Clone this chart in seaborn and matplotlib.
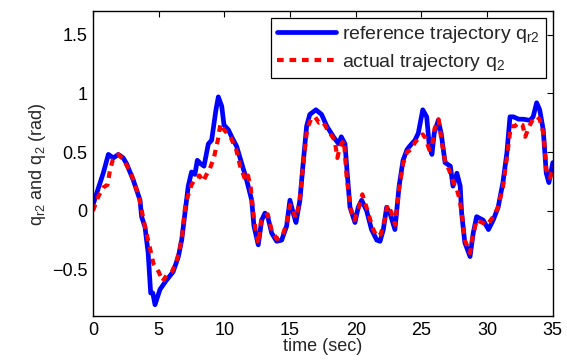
import matplotlib
matplotlib.use("Agg")
import matplotlib.pyplot as plt
import seaborn as sns
import pandas as pd

t_ref = [0, 0.4, 0.78, 1.17, 1.55, 1.93, 2.3, 2.56, 3.07, 3.4, 3.58, 3.7, 3.96, 4.2, 4.39, 4.55, 4.72,
         5.1, 5.6, 6.1, 6.5, 6.75, 7.0, 7.25, 7.5, 7.76, 7.94, 8.2, 8.45, 8.78, 9.03, 9.36, 9.54, 9.8,
         9.97, 10.3, 10.6, 10.93, 11.3, 11.7, 12.08, 12.25, 12.58, 12.84, 13.09, 13.3, 13.6, 13.98,
         14.36, 14.74, 14.99, 15.24, 15.45, 15.75, 16.0, 16.26, 16.5, 16.97, 17.4, 17.8, 18.3, 18.7,
         18.9, 19.18, 19.35, 19.56, 19.94, 20.19, 20.45, 20.83, 21.2, 21.6, 21.85, 22.1, 22.35, 22.6,
         22.98, 23.3, 23.6, 23.9, 24.1, 24.5, 24.76, 25.1, 25.4, 25.6, 25.8, 25.97, 26.28, 26.5, 26.8,
         27.2, 27.4, 27.7, 27.95, 28.06, 28.3, 28.7, 28.94, 29.2, 29.7, 30.1, 30.46, 30.84, 31.2, 31.5,
         31.74, 32.0, 32.4, 32.75, 33.26, 33.5, 33.77, 34.0, 34.27, 34.5, 34.7, 35.0]
q_ref = [0.05, 0.19, 0.32, 0.48, 0.45, 0.48, 0.45, 0.40, 0.26, 0.15, 0.09, -0.05, -0.14, -0.36, -0.70,
         -0.70, -0.80, -0.67, -0.59, -0.52, -0.39, -0.25, -0.02, 0.21, 0.33, 0.31, 0.43, 0.40, 0.38,
         0.57, 0.60, 0.86, 0.97, 0.89, 0.73, 0.69, 0.62, 0.55, 0.41, 0.26, 0.09, -0.13, -0.29, -0.08,
         -0.02, -0.05, -0.19, -0.26, -0.25, -0.13, 0.09, -0.02, -0.10, 0.09, 0.41, 0.72, 0.82, 0.86,
         0.82, 0.72, 0.63, 0.57, 0.63, 0.57, 0.32, 0.03, -0.10, 0.03, 0.09, 0.00, -0.16, -0.25, -0.26,
         -0.16, 0.03, -0.02, -0.16, 0.21, 0.43, 0.52, 0.55, 0.60, 0.66, 0.86, 0.80, 0.55, 0.48, 0.66,
         0.77, 0.66, 0.41, 0.38, 0.21, 0.32, 0.21, -0.02, -0.27, -0.39, -0.19, -0.05, -0.08, -0.16,
         -0.08, 0.03, 0.24, 0.49, 0.80, 0.80, 0.78, 0.78, 0.77, 0.80, 0.92, 0.86, 0.69, 0.32, 0.24, 0.41]

t_act = [0, 0.4, 0.8, 1.1, 1.3, 1.5, 1.9, 2.3, 2.6, 2.9, 3.2, 3.5, 3.8, 4.0, 4.3, 4.6, 5.0, 5.3, 5.6,
         6.0, 6.3, 6.6, 6.8, 7.0, 7.2, 7.5, 7.8, 8.1, 8.4, 8.6, 8.9, 9.2, 9.5, 9.7, 9.9, 10.2, 10.5,
         10.9, 11.2, 11.4, 11.6, 11.8, 12.0, 12.2, 12.4, 12.6, 12.8, 13.0, 13.3, 13.6, 14.0, 14.4,
         14.7, 15.0, 15.2, 15.4, 15.7, 16.0, 16.3, 16.6, 16.9, 17.2, 17.5, 17.8, 18.1, 18.4, 18.6,
         18.8, 19.1, 19.3, 19.6, 19.9, 20.3, 20.5, 20.9, 21.3, 21.6, 21.9, 22.2, 22.4, 22.7, 23.0,
         23.3, 23.6, 23.9, 24.2, 24.5, 24.8, 25.1, 25.3, 25.6, 25.8, 26.0, 26.3, 26.5, 26.8, 27.1,
         27.4, 27.7, 27.9, 28.1, 28.3, 28.7, 28.9, 29.2, 29.6, 30.0, 30.4, 30.8, 31.2, 31.5, 31.8,
         32.1, 32.4, 32.7, 32.9, 33.2, 33.5, 33.8, 34.0, 34.3, 34.5, 34.8, 35.0]
q_act = [0.0, 0.12, 0.20, 0.22, 0.35, 0.43, 0.48, 0.44, 0.38, 0.32, 0.22, 0.12, -0.05, -0.16, -0.30,
         -0.45, -0.52, -0.60, -0.55, -0.52, -0.45, -0.33, -0.20, 0.02, 0.12, 0.22, 0.28, 0.30, 0.25,
         0.30, 0.36, 0.45, 0.60, 0.74, 0.70, 0.66, 0.62, 0.52, 0.38, 0.32, 0.26, 0.30, 0.20, -0.02,
         -0.18, -0.28, -0.08, -0.05, -0.03, -0.17, -0.24, -0.22, -0.12, 0.05, 0.02, -0.06, 0.05, 0.40,
         0.70, 0.78, 0.80, 0.75, 0.76, 0.70, 0.65, 0.60, 0.45, 0.55, 0.60, 0.30, 0.02, -0.08, 0.05,
         0.14, 0.00, -0.15, -0.22, -0.20, -0.08, 0.05, -0.01, -0.12, 0.19, 0.40, 0.50, 0.52, 0.58,
         0.62, 0.65, 0.62, 0.52, 0.55, 0.70, 0.78, 0.62, 0.42, 0.35, 0.25, 0.18, 0.10, -0.05, -0.25,
         -0.36, -0.22, -0.08, -0.10, -0.12, -0.06, 0.02, 0.20, 0.45, 0.72, 0.72, 0.75, 0.73, 0.63,
         0.72, 0.78, 0.80, 0.78, 0.65, 0.35, 0.28, 0.38]

labels = ["reference trajectory q$_{r2}$", "actual trajectory q$_2$"]
x_ticks = [0, 5, 10, 15, 20, 25, 30, 35]
y_ticks = [-0.5, 0, 0.5, 1, 1.5]
y_tick_labels = ["\u22120.5", "0", "0.5", "1", "1.5"]

sns.set_style("white")
plt.rcParams['font.family'] = ['Liberation Sans', 'DejaVu Sans']
plt.rcParams['mathtext.fontset'] = 'custom'
plt.rcParams['mathtext.rm'] = 'Liberation Sans'
plt.rcParams['mathtext.it'] = 'Liberation Sans'

fig = plt.figure(figsize=(5.67, 3.6), dpi=100)
ax = fig.add_axes([0.164, 0.121, 0.811, 0.848])

df_ref = pd.DataFrame({"t": t_ref, "q": q_ref})
df_act = pd.DataFrame({"t": t_act, "q": q_act})
sns.lineplot(data=df_ref, x="t", y="q", ax=ax, color="#0000ff", linewidth=3.4, label=labels[0],
             estimator=None, sort=False)
sns.lineplot(data=df_act, x="t", y="q", ax=ax, color="#ff0000", linewidth=3.0, label=labels[1],
             estimator=None, sort=False)
ax.lines[1].set_dashes((1.8, 1.4))

ax.set_xlim(0, 35)
ax.set_ylim(-0.9, 1.7)
ax.set_xticks(x_ticks)
ax.set_xticklabels([str(v) for v in x_ticks])
ax.set_yticks(y_ticks)
ax.set_yticklabels(y_tick_labels)
ax.tick_params(direction="in", top=True, right=True, labelsize=13, length=4, width=0.8,
               colors="black", pad=4)
for s in ax.spines.values():
    s.set_color("black")
    s.set_linewidth(1.0)
ax.set_xlabel("time (sec)", fontsize=13, labelpad=-1)
ax.set_ylabel("q$_{r2}$ and q$_2$ (rad)", fontsize=13, labelpad=3)

handles, _ = ax.get_legend_handles_labels()
handles[1].set_dashes((1.6, 1.4))
leg = ax.legend(handles=handles, labels=labels, loc="upper right", fontsize=14, frameon=True,
                fancybox=False, framealpha=1, edgecolor="black", handlelength=3.0,
                borderaxespad=0.35, borderpad=0.3, labelspacing=0.35, handletextpad=0.35)
leg.get_frame().set_linewidth(0.9)

fig.savefig("out.png", dpi=100)
